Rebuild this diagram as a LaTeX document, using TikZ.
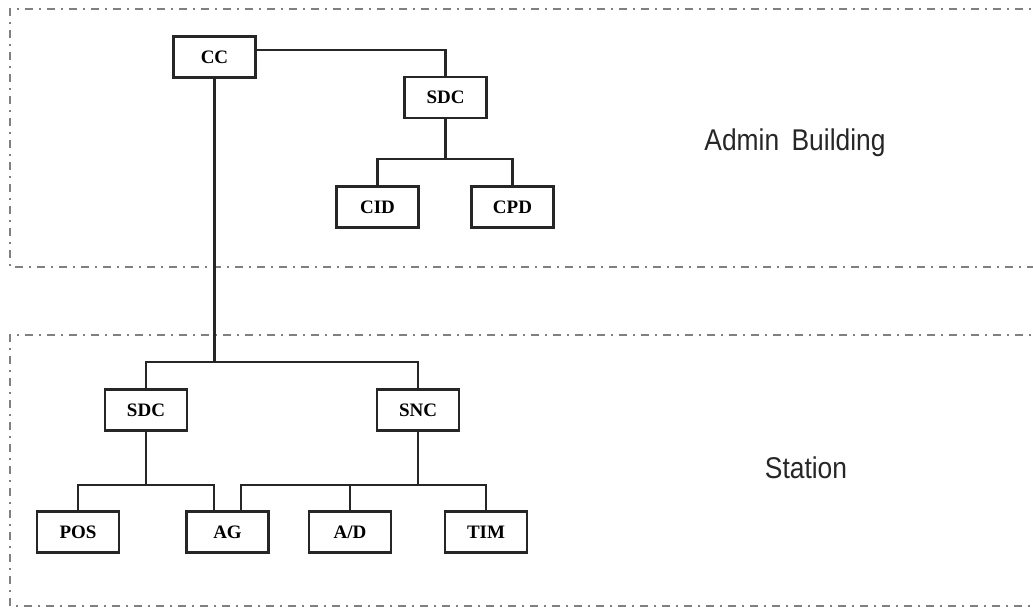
\documentclass[tikz,border=0pt]{standalone}
\usepackage{fontspec}
\setmainfont{Liberation Serif}
\newfontfamily\lblfont[FakeStretch=0.88]{Liberation Sans}
\usetikzlibrary{calc}
\begin{document}
\begin{tikzpicture}[x=1pt,y=-1pt,
  unit/.style={draw=black!85,line width=2.4pt,minimum width=82pt,minimum height=41pt,inner sep=0pt,
    font=\fontsize{19}{21}\selectfont\bfseries},
  link/.style={draw=black!85,line width=2.4pt},
  region/.style={draw=black!50,line width=2pt,dash pattern=on 8pt off 6pt on 2pt off 6pt},
  zonelabel/.style={font=\fontsize{30}{34}\lblfont,text=black!85}]
\useasboundingbox (0,0) rectangle (1033,608);
% regions
\draw[region] (1045,9) -- (10,9) -- (10,267) -- (1045,267);
\draw[region] (1045,335) -- (10,335) -- (10,606) -- (1045,606);
\node[zonelabel] (admin) at (795,143) {Admin\, Building};
\node[zonelabel] (station) at (806,468) {Station};
% nodes
\node[unit] (CC) at (214.5,57) {CC};
\node[unit] (SDCa) at (445.5,97.5) {SDC};
\node[unit] (CID) at (377.5,207) {CID};
\node[unit] (CPD) at (512.5,207) {CPD};
\node[unit] (SDCb) at (146,410) {SDC};
\node[unit] (SNC) at (418,410) {SNC};
\node[unit] (POS) at (78,532) {POS};
\node[unit] (AG) at (227.5,532) {AG};
\node[unit] (AD) at (350,532) {A/D};
\node[unit] (TIM) at (486,532) {TIM};
% bus points
\coordinate (b1) at (445.5,159);
\coordinate (b2) at (214.5,362);
\coordinate (b3) at (146,485);
\coordinate (b4) at (418,485);
% connectors
\draw[link] ([yshift=7pt]CC.east) -| (SDCa.north);
\draw[link] (SDCa.south) -- (b1);
\draw[link] (CID.north) |- (b1) -| (CPD.north);
\draw[link] (CC.south) -- (b2);
\draw[link] (SDCb.north) |- (b2) -| (SNC.north);
\draw[link] (SDCb.south) -- (b3);
\draw[link] (POS.north) |- (b3) -| ([xshift=-13.5pt]AG.north);
\draw[link] (SNC.south) -- (b4);
\draw[link] ([xshift=13.5pt]AG.north) |- (b4) -| (TIM.north);
\draw[link] (AD.north) -- (AD.north |- b4);
\end{tikzpicture}
\end{document}
